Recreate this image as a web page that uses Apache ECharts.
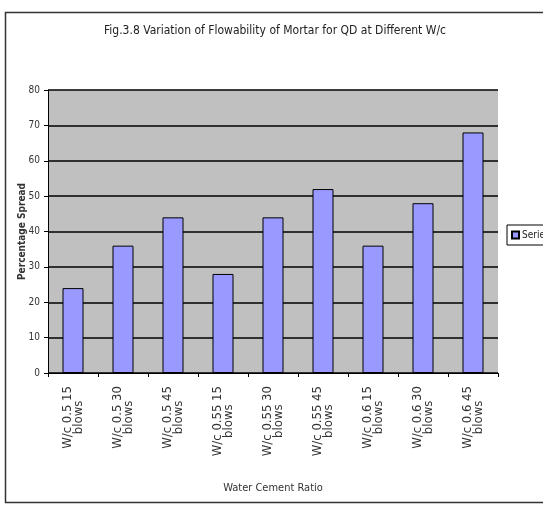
<!DOCTYPE html>
<html>
<head>
<meta charset="utf-8">
<script src="https://cdn.jsdelivr.net/npm/echarts@6/dist/echarts.min.js"></script>
<style>
  html, body { margin: 0; padding: 0; background: #fff; }
  #chart { width: 543px; height: 506px; }
</style>
</head>
<body>
<div id="chart"></div>
<script>
// Water/cement ratio and blow-count categories
const categories = [
  'W/c 0.5 15\nblows', 'W/c 0.5 30\nblows', 'W/c 0.5 45\nblows',
  'W/c 0.55 15\nblows', 'W/c 0.55 30\nblows', 'W/c 0.55 45\nblows',
  'W/c 0.6 15\nblows', 'W/c 0.6 30\nblows', 'W/c 0.6 45\nblows'
];
// Percentage spread for each case
const spread = [24, 36, 44, 28, 44, 52, 36, 48, 68];
const seriesName = 'Series1';
const yMin = 0, yMax = 80, yStep = 10;

const FONT = '"Liberation Sans Narrow", "DejaVu Sans Condensed", "Liberation Sans", sans-serif';

const chart = echarts.init(document.getElementById('chart'), null, { renderer: 'canvas' });

chart.setOption({
  backgroundColor: '#ffffff',
  animation: false,
  title: {
    text: 'Fig.3.8 Variation of Flowability of Mortar for QD at Different W/c',
    left: 270,
    textAlign: 'center',
    top: 20,
    textStyle: { fontFamily: FONT, fontSize: 12, fontWeight: 'normal', color: '#222' }
  },
  graphic: [
    {
      type: 'rect',
      shape: { x: 5.5, y: 12.5, width: 560, height: 490 },
      style: { fill: 'none', stroke: '#333', lineWidth: 1.5 },
      silent: true
    }
  ],
  legend: {
    left: 507,
    top: 225,
    orient: 'vertical',
    itemWidth: 7,
    itemHeight: 7,
    itemGap: 4,
    padding: [5, 4, 5, 4],
    borderColor: '#000',
    borderWidth: 1,
    backgroundColor: '#fff',
    borderRadius: 0,
    icon: 'rect',
    textStyle: { fontFamily: FONT, fontSize: 10, color: '#222', padding: [0, 0, 0, -2] },
    data: [seriesName]
  },
  grid: {
    left: 48,
    right: 45,
    top: 90,
    bottom: 133,
    show: true,
    backgroundColor: '#c0c0c0',
    borderWidth: 0
  },
  xAxis: {
    type: 'category',
    data: categories,
    name: 'Water Cement Ratio',
    nameLocation: 'middle',
    nameGap: 110,
    nameTextStyle: { fontFamily: FONT, fontSize: 11, color: '#333' },
    axisLine: { lineStyle: { color: '#000', width: 1 } },
    axisTick: { show: true, alignWithLabel: false, length: 4, lineStyle: { color: '#000' } },
    axisLabel: {
      rotate: 90,
      margin: 13,
      interval: 0,
      formatter: function (v) {
        const parts = v.split('\n');
        return '{a|' + parts[0] + '}\n{a|' + parts[1] + '}';
      },
      rich: {
        a: { fontFamily: FONT, fontSize: 13, color: '#333', align: 'center', lineHeight: 11 }
      }
    }
  },
  yAxis: {
    type: 'value',
    min: yMin,
    max: yMax,
    interval: yStep,
    name: 'Percentage Spread',
    nameLocation: 'middle',
    nameGap: 21,
    nameMoveOverlap: false,
    nameTextStyle: { fontFamily: FONT, fontSize: 10, fontWeight: 'bold', color: '#333' },
    axisLine: { show: true, lineStyle: { color: '#000', width: 1 } },
    axisTick: { show: true, length: 4, lineStyle: { color: '#000' } },
    axisLabel: { fontFamily: FONT, fontSize: 10, color: '#333', margin: 8 },
    splitLine: { show: true, lineStyle: { color: '#000', width: 1.5 } }
  },
  series: [
    {
      name: seriesName,
      type: 'bar',
      data: spread,
      barWidth: '42%',
      itemStyle: { color: '#9999ff', borderColor: '#000', borderWidth: 1 }
    }
  ]
});
</script>
</body>
</html>
